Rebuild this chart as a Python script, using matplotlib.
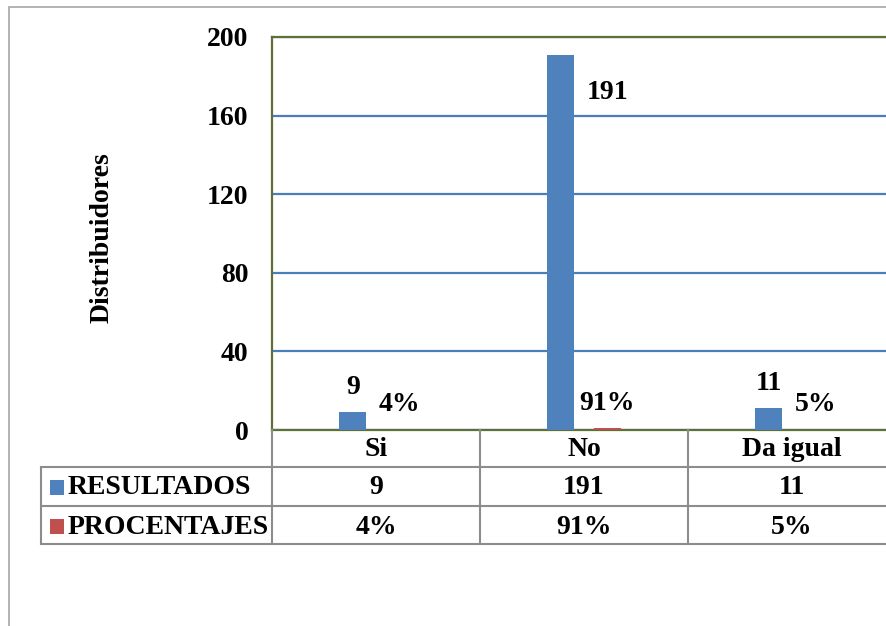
import matplotlib
matplotlib.use("Agg")
import matplotlib.pyplot as plt
from matplotlib.lines import Line2D
from matplotlib.patches import Rectangle

categories = ["Si", "No", "Da igual"]
resultados = [9, 191, 11]
porcentajes = [0.04, 0.91, 0.05]
porcentaje_labels = ["4%", "91%", "5%"]
series_names = ["RESULTADOS", "PROCENTAJES"]
y_ticks = [0, 40, 80, 120, 160, 200]
y_label = "Distribuidores"

W, H = 886, 626
BLUE = "#4f81bd"
RED = "#c0504d"
GRID = "#4a7ebb"
OLIVE = "#5e7039"
TABLE = "#8c8c8c"
FONT = "Liberation Serif"
FS = 20

plt.rcParams["font.family"] = [FONT, "DejaVu Serif"]
plt.rcParams["font.weight"] = "bold"

fig = plt.figure(figsize=(W / 100, H / 100), dpi=100)

def fx(x):
    return x / W

def fy(y):
    return 1 - y / H

ax = fig.add_axes([fx(272), fy(430), (896 - 272) / W, (430 - 37) / H])
ax.set_xlim(-0.5, 2.5)
ax.set_ylim(0, 200)

off = 0.112
bw = 0.13
xs = list(range(len(categories)))
blue_x = [x - off for x in xs]
red_x = [x + off for x in xs]
ax.bar(blue_x, resultados, width=bw, color=BLUE, zorder=3)
ax.bar(red_x, porcentajes, width=bw, color=RED, zorder=3)

ax.set_yticks(y_ticks)
ax.set_yticklabels([str(t) for t in y_ticks], fontsize=FS, fontweight="bold")
ax.tick_params(axis="y", length=0, pad=17)
ax.set_xticks([])
ax.yaxis.grid(True, color=GRID, linewidth=1.6, zorder=0)
ax.set_axisbelow(True)
for s in ["left", "top", "bottom"]:
    ax.spines[s].set_color(OLIVE)
    ax.spines[s].set_linewidth(1.6)
ax.spines["right"].set_visible(False)

# data labels
ymax = ax.get_ylim()[1]
for bx, rx, v in zip(blue_x, red_x, resultados):
    if v > 0.85 * ymax:
        ax.annotate(str(v), xy=(rx, v), xytext=(0, -27), textcoords="offset points",
                    ha="center", va="center", fontsize=FS, fontweight="bold")
    else:
        ax.annotate(str(v), xy=(bx, v), xytext=(0, 18), textcoords="offset points",
                    ha="center", va="center", fontsize=FS, fontweight="bold")
for rx, p, lab in zip(red_x, porcentajes, porcentaje_labels):
    ax.annotate(lab, xy=(rx, p), xytext=(0, 18), textcoords="offset points",
                ha="center", va="center", fontsize=FS, fontweight="bold")

# y label
fig.text(fx(102), fy(238), y_label, rotation=90, ha="center", va="center",
         fontsize=FS, fontweight="bold")

# outer chart border
fig.add_artist(Rectangle((fx(9), fy(700)), (1000 - 9) / W, (700 - 7) / H,
                         transform=fig.transFigure, fill=False,
                         edgecolor="#a6a6a6", linewidth=1.2))

# data table
col_edges = [272, 480, 688, 896]
row_lines = [467, 506, 544]
lw = 1.5
def hline(y, x0, x1):
    fig.add_artist(Line2D([fx(x0), fx(x1)], [fy(y), fy(y)], transform=fig.transFigure,
                          color=TABLE, linewidth=lw))
def vline(x, y0, y1):
    fig.add_artist(Line2D([fx(x), fx(x)], [fy(y0), fy(y1)], transform=fig.transFigure,
                          color=TABLE, linewidth=lw))
for y in row_lines:
    hline(y, 41, 900)
vline(41, 467, 544)
for x in col_edges[:-1]:
    vline(x, 430, 544)

header_y = 450
row_y = [488, 527]
for i, cat in enumerate(categories):
    cx = (col_edges[i] + col_edges[i + 1]) / 2
    fig.text(fx(cx), fy(header_y), cat, ha="center", va="center", fontsize=FS, fontweight="bold")
    fig.text(fx(cx), fy(row_y[0]), str(resultados[i]), ha="center", va="center",
             fontsize=FS, fontweight="bold")
    fig.text(fx(cx), fy(row_y[1]), porcentaje_labels[i], ha="center", va="center",
             fontsize=FS, fontweight="bold")

for name, col, y in zip(series_names, [BLUE, RED], row_y):
    fig.add_artist(Rectangle((fx(50), fy(y + 7)), 14 / W, 15 / H, transform=fig.transFigure,
                             facecolor=col, edgecolor="none"))
    fig.text(fx(68), fy(y), name, ha="left", va="center", fontsize=FS, fontweight="bold")

fig.savefig("out.png", dpi=100, facecolor="white")
